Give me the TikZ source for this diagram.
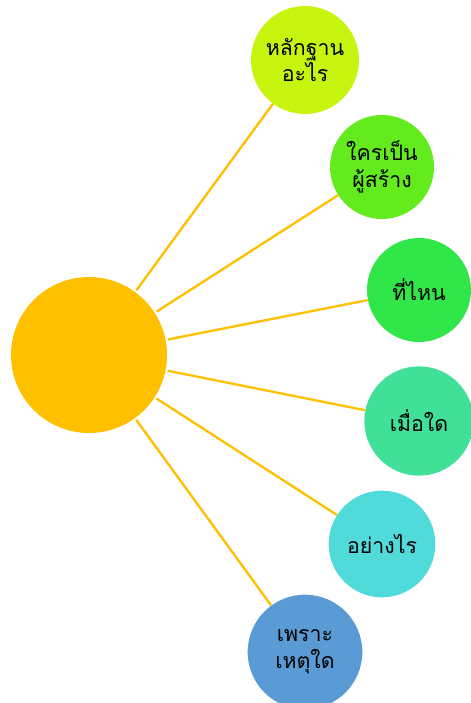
\documentclass[tikz,border=0pt]{standalone}
\usepackage{fontspec}
\usepackage{tikz}
\newfontfamily\thaifont[Script=Thai]{Loma}
\definecolor{mygold}{HTML}{FFC000}
\definecolor{mylime}{HTML}{C8F50F}
\definecolor{mygreen}{HTML}{64EB1E}
\definecolor{myemerald}{HTML}{30E648}
\definecolor{mymint}{HTML}{40E098}
\definecolor{mycyan}{HTML}{50DADA}
\definecolor{myblue}{HTML}{5B9BD5}

\begin{document}
\begin{tikzpicture}[
    x=0.75pt, y=-0.75pt,
    hub/.style={circle, fill=mygold, minimum size=117pt, inner sep=0pt},
    leaf/.style={circle, minimum size=80pt, inner sep=0pt, align=center, text=black, font=\thaifont\fontsize{16}{20}\selectfont},
    spoke/.style={draw=mygold, line width=1.75pt, shorten <=1.5pt}
]
\useasboundingbox (0,0) rectangle (471,703);
\node[hub] (center) at (89,355) {};
\node[leaf, fill=mylime, minimum size=81pt] (what) at (305,60) {หลักฐาน\\อะไร};
\node[leaf, fill=mygreen, minimum size=78pt] (who) at (382,167) {ใครเป็น\\ผู้สร้าง};
\node[leaf, fill=myemerald, minimum size=78pt] (where) at (419,290) {ที่ไหน};
\node[leaf, fill=mymint, minimum size=82pt] (when) at (419,421) {เมื่อใด};
\node[leaf, fill=mycyan, minimum size=80pt] (how) at (382,544) {อย่างไร};
\node[leaf, fill=myblue, minimum size=86pt] (why) at (305,652) {เพราะ\\เหตุใด};

\draw[spoke] (center) -- (what);
\draw[spoke] (center) -- (who);
\draw[spoke] (center) -- (where);
\draw[spoke] (center) -- (when);
\draw[spoke] (center) -- (how);
\draw[spoke] (center) -- (why);
\end{tikzpicture}
\end{document}
